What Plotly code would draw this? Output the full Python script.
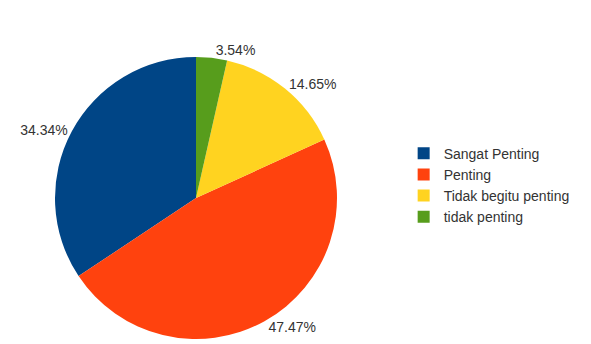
import plotly.graph_objects as go

categories = ["Sangat Penting", "Penting", "Tidak begitu penting", "tidak penting"]
values = [34.34, 47.47, 14.65, 3.54]
colors = ["#004586", "#ff420e", "#ffd320", "#579d1c"]

# first slice starts at 12 o'clock and slices run counter-clockwise
start_rotation = -360.0 * values[0] / sum(values)

fig = go.Figure(
    go.Pie(
        labels=categories,
        values=values,
        sort=False,
        direction="counterclockwise",
        rotation=start_rotation,
        marker=dict(colors=colors, line=dict(width=0)),
        textposition="outside",
        texttemplate="%{value:.2f}%",
        textfont=dict(family="Liberation Sans, Arial, sans-serif", size=14, color="#333333"),
        domain=dict(x=[55 / 591, 337 / 591], y=[5 / 344, 287 / 344]),
        hoverinfo="label+percent",
    )
)

fig.update_layout(
    width=591,
    height=344,
    margin=dict(l=0, r=0, t=0, b=0),
    paper_bgcolor="white",
    plot_bgcolor="white",
    showlegend=True,
    legend=dict(
        x=0.683,
        y=0.60,
        xanchor="left",
        yanchor="top",
        font=dict(family="Liberation Sans, Arial, sans-serif", size=14, color="#333333"),
        tracegroupgap=0,
        itemwidth=30,
        bgcolor="rgba(0,0,0,0)",
    ),
)

fig.write_html("out.html")
